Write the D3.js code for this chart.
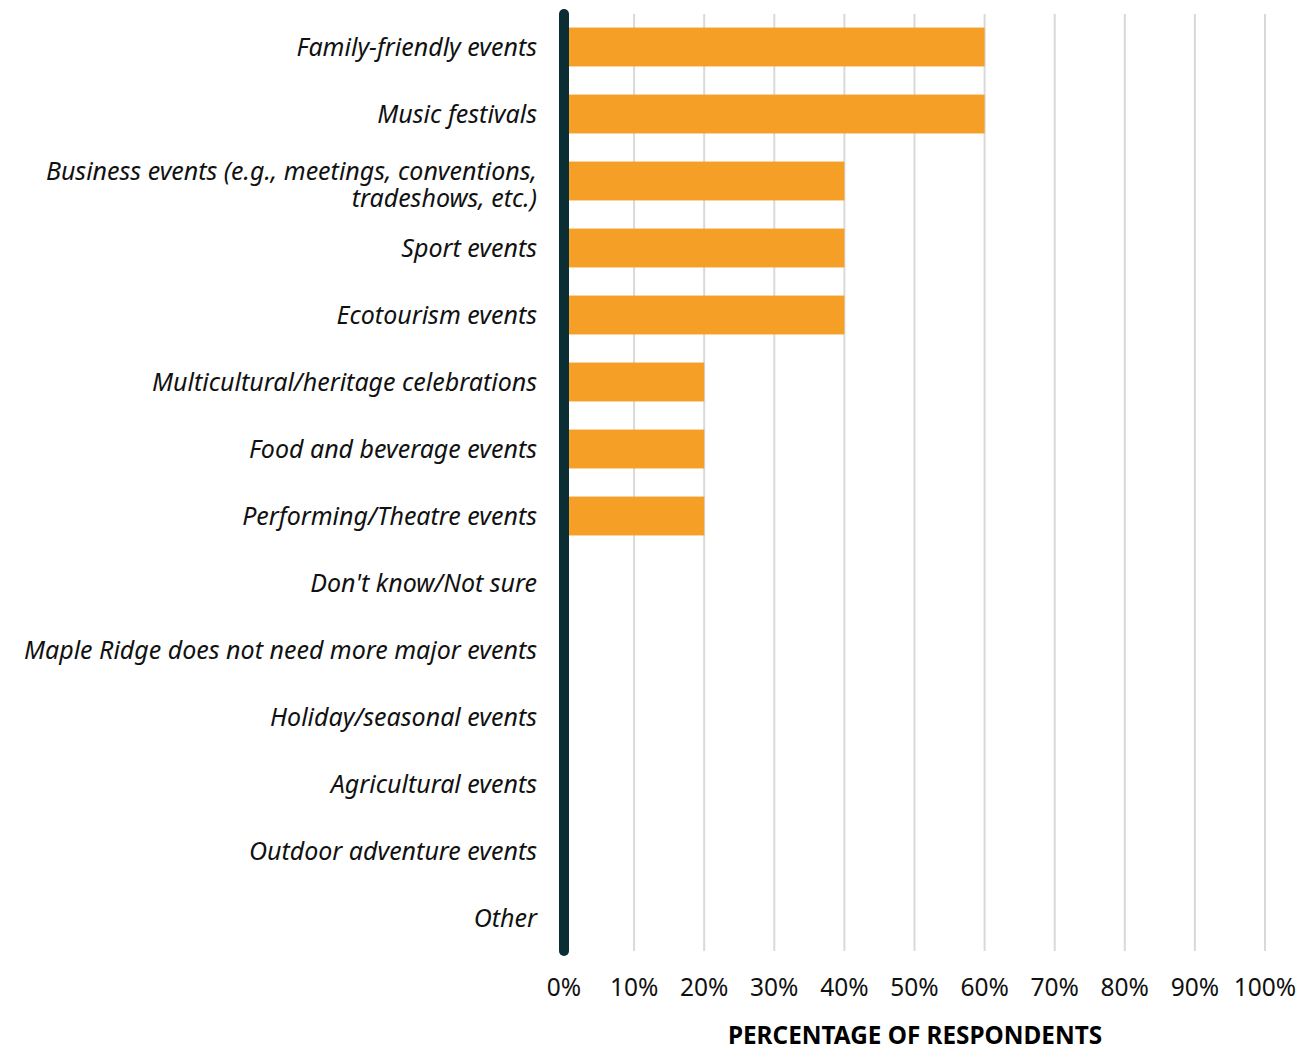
<!DOCTYPE html>
<html>
<head>
<meta charset="utf-8">
<script src="https://cdn.jsdelivr.net/npm/d3@7"></script>
<style>
  body { margin: 0; background: #fff; }
  text { font-family: "Source Sans Pro", "Noto Sans", sans-serif; }
</style>
</head>
<body>
<div id="chart"></div>
<script>
// data
const categories = [
  "Family-friendly events",
  "Music festivals",
  "Business events (e.g., meetings, conventions,|tradeshows, etc.)",
  "Sport events",
  "Ecotourism events",
  "Multicultural/heritage celebrations",
  "Food and beverage events",
  "Performing/Theatre events",
  "Don't know/Not sure",
  "Maple Ridge does not need more major events",
  "Holiday/seasonal events",
  "Agricultural events",
  "Outdoor adventure events",
  "Other"
];
const values = [60, 60, 40, 40, 40, 20, 20, 20, 0, 0, 0, 0, 0, 0];
const ticks = [0, 10, 20, 30, 40, 50, 60, 70, 80, 90, 100];

const width = 1303, height = 1051;
const svg = d3.select("#chart").append("svg")
  .attr("width", width).attr("height", height);

const x = d3.scaleLinear().domain([0, 100]).range([564, 1265]);
const y = d3.scaleBand().domain(categories).range([13.5, 951.5]).paddingInner(0.42).paddingOuter(0.21);

// gridlines
svg.append("g").selectAll("line")
  .data(ticks.slice(1))
  .join("line")
    .attr("x1", d => x(d)).attr("x2", d => x(d))
    .attr("y1", 14).attr("y2", 951)
    .attr("stroke", "#d9d9d9").attr("stroke-width", 2);

// bars
svg.append("g").selectAll("rect")
  .data(categories.map((c, i) => ({c, v: values[i]})).filter(d => d.v > 0))
  .join("rect")
    .attr("x", x(0))
    .attr("y", d => y(d.c))
    .attr("width", d => x(d.v) - x(0))
    .attr("height", y.bandwidth())
    .attr("fill", "#f69f27");

// axis line
svg.append("line")
  .attr("x1", x(0)).attr("x2", x(0))
  .attr("y1", 14).attr("y2", 951)
  .attr("stroke", "#0b2e35").attr("stroke-width", 10)
  .attr("stroke-linecap", "round");

// category labels
const lab = svg.append("g").selectAll("text")
  .data(categories)
  .join("text")
    .attr("text-anchor", "end")
    .attr("font-style", "italic")
    .attr("font-size", 25)
    .attr("fill", "#111")
    .attr("y", d => y(d) + y.bandwidth() / 2);
lab.each(function(d) {
  const parts = d.split("|");
  const t = d3.select(this);
  parts.forEach((p, i) => {
    t.append("tspan")
      .attr("x", 537)
      .attr("dy", i === 0 ? (parts.length > 1 ? "-0.06em" : "0.35em") : "1.08em")
      .text(p);
  });
});

// tick labels
svg.append("g").selectAll("text")
  .data(ticks)
  .join("text")
    .attr("x", d => x(d))
    .attr("y", 996)
    .attr("text-anchor", "middle")
    .attr("font-size", 24.5)
    .attr("fill", "#111")
    .text(d => d + "%");

// axis title
svg.append("text")
  .attr("x", 915).attr("y", 1044)
  .attr("text-anchor", "middle")
  .attr("font-size", 24.3)
  .attr("font-weight", "bold")
  .attr("fill", "#000")
  .text("PERCENTAGE OF RESPONDENTS");
</script>
</body>
</html>
